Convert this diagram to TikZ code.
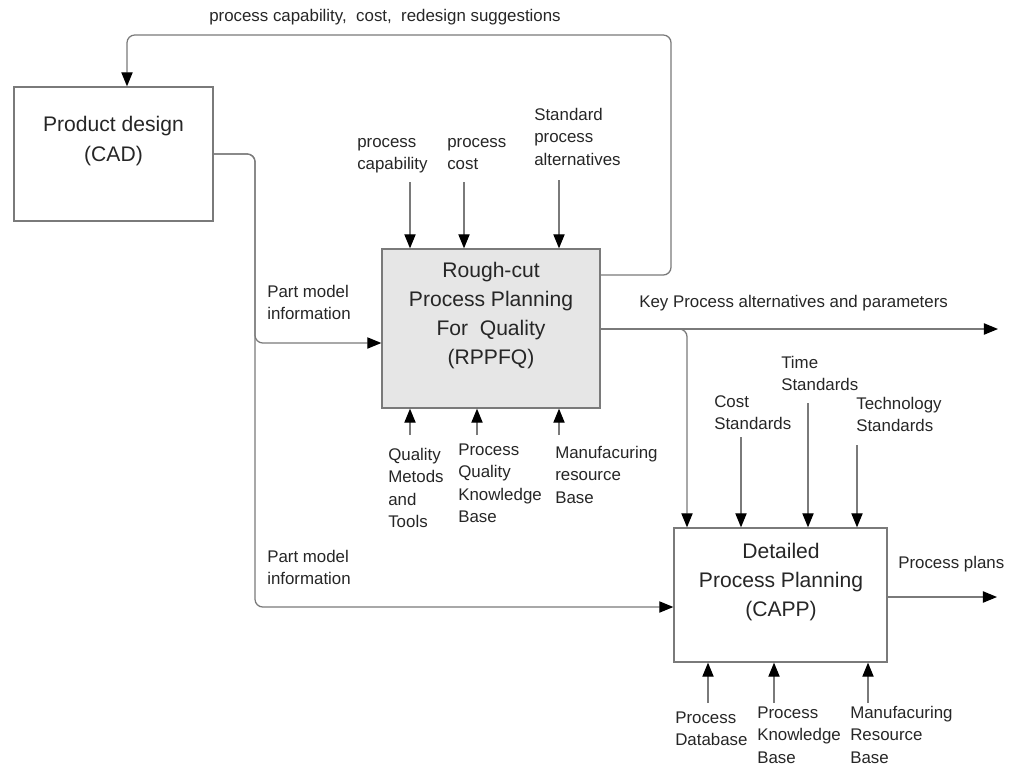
\documentclass[tikz,border=0pt]{standalone}
\usepackage{fontspec}
\setmainfont{Liberation Sans}
\usetikzlibrary{arrows.meta}
\definecolor{wire}{RGB}{122,122,122}
\definecolor{ink}{RGB}{38,38,38}
\definecolor{boxfill}{RGB}{230,230,230}
\tikzset{
  block/.style={draw=wire, line width=0.9pt, inner sep=0pt, anchor=center},
  bigtxt/.style={text=ink, inner sep=0pt, align=center, anchor=base,
    font=\fontsize{15}{20.5}\selectfont},
  lbl/.style={text=ink, inner sep=0pt, align=left, anchor=base west,
    font=\fontsize{12}{16}\selectfont},
  wireline/.style={draw=wire, line width=0.9pt, rounded corners=5.5pt},
  flow/.style={wireline, -{Triangle[length=10pt,width=8pt,color=black]}}
}
% multi-line nodes below are placed by the baseline of their last line
\begin{document}
\begin{tikzpicture}[x=0.025cm, y=-0.025cm]
\useasboundingbox (0,0) rectangle (1016,769);

% blocks
\node[block, minimum width=4.975cm, minimum height=3.35cm] (cad) at (113.5,154) {};
\node[block, fill=boxfill, minimum width=5.45cm, minimum height=3.975cm] (rp) at (491,328.5) {};
\node[block, minimum width=5.325cm, minimum height=3.35cm] (capp) at (780.5,595) {};

% block titles
\node[bigtxt, font=\fontsize{15}{21.3}\selectfont] (cadtxt) at (113.5,161) {Product design\\(CAD)};
\node[bigtxt] (rptxt) at (491,364) {Rough-cut\\Process Planning\\For\ \ Quality\\(RPPFQ)};
\node[bigtxt] (capptxt) at (781,616) {Detailed\\Process Planning\\(CAPP)};

% feedback to product design
\coordinate (fbA) at (671,275);
\coordinate (fbB) at (671,35);
\coordinate (fbC) at (127,35);
\draw[flow] (rp.east |- fbA) -- (fbA) -- (fbB) -- (fbC) -- (cad.north -| fbC);
\node[lbl] (fbtxt) at (209,21) {process capability,\ \ cost,\ \ redesign suggestions};

% part model information from CAD
\coordinate (pmA) at (255,154);
\coordinate (pmB) at (255,343);
\coordinate (pmC) at (255,607);
\draw[flow] (cad.east |- pmA) -- (pmA) -- (pmB) -- (rp.west |- pmB);
\draw[flow] (cad.east |- pmA) -- (pmA) -- (pmC) -- (capp.west |- pmC);
\node[lbl] (pm1) at (267,319.5) {Part model\\information};
\node[lbl] (pm2) at (267,584.5) {Part model\\information};

% controls entering the rough-cut block
\coordinate (inA) at (410,182);
\coordinate (inB) at (464,182);
\coordinate (inC) at (559,180);
\draw[flow] (inA) -- (inA |- rp.north);
\draw[flow] (inB) -- (inB |- rp.north);
\draw[flow] (inC) -- (inC |- rp.north);
\node[lbl] (capl) at (357,169.5) {process\\capability};
\node[lbl] (costl) at (447,169.5) {process\\cost};
\node[lbl] (stdl) at (534,165) {Standard\\process\\alternatives};

% mechanisms below the rough-cut block
\coordinate (mA) at (410,435);
\coordinate (mB) at (477,435);
\coordinate (mC) at (559,435);
\draw[flow] (mA) -- (mA |- rp.south);
\draw[flow] (mB) -- (mB |- rp.south);
\draw[flow] (mC) -- (mC |- rp.south);
\node[lbl] (qml) at (388,527.5) {Quality\\Metods\\and\\Tools};
\node[lbl] (pqk) at (458,522.5) {Process\\Quality\\Knowledge\\Base};
\node[lbl] (mrb1) at (555,503) {Manufacuring\\resource\\Base};

% key process alternatives output
\coordinate (kpY) at (0,329);
\coordinate (kpEnd) at (998,329);
\coordinate (kpDrop) at (687,329);
\draw[flow] (rp.east |- kpY) -- (kpEnd);
\draw[flow] (rp.east |- kpY) -- (kpDrop) -- (capp.north -| kpDrop);
\node[lbl] (kpl) at (639,307) {Key Process alternatives and parameters};

% controls entering the detailed planning block
\coordinate (cA) at (741,437);
\coordinate (cB) at (808,403);
\coordinate (cC) at (857,445);
\draw[flow] (cA) -- (cA |- capp.north);
\draw[flow] (cB) -- (cB |- capp.north);
\draw[flow] (cC) -- (cC |- capp.north);
\node[lbl] (tsl) at (781,390.5) {Time\\Standards};
\node[lbl] (csl) at (714,429.5) {Cost\\Standards};
\node[lbl] (tcl) at (856,431.5) {Technology\\Standards};

% process plans output
\coordinate (ppY) at (0,597);
\coordinate (ppEnd) at (997,597);
\draw[flow] (capp.east |- ppY) -- (ppEnd);
\node[lbl] (ppl) at (898,568) {Process plans};

% mechanisms below the detailed planning block
\coordinate (dA) at (708,703);
\coordinate (dB) at (774,703);
\coordinate (dC) at (868,703);
\draw[flow] (dA) -- (dA |- capp.south);
\draw[flow] (dB) -- (dB |- capp.south);
\draw[flow] (dC) -- (dC |- capp.south);
\node[lbl] (pdb) at (675,745.5) {Process\\Database};
\node[lbl] (pkb) at (757,763) {Process\\Knowledge\\Base};
\node[lbl] (mrb2) at (850,763) {Manufacuring\\Resource\\Base};
\end{tikzpicture}
\end{document}
